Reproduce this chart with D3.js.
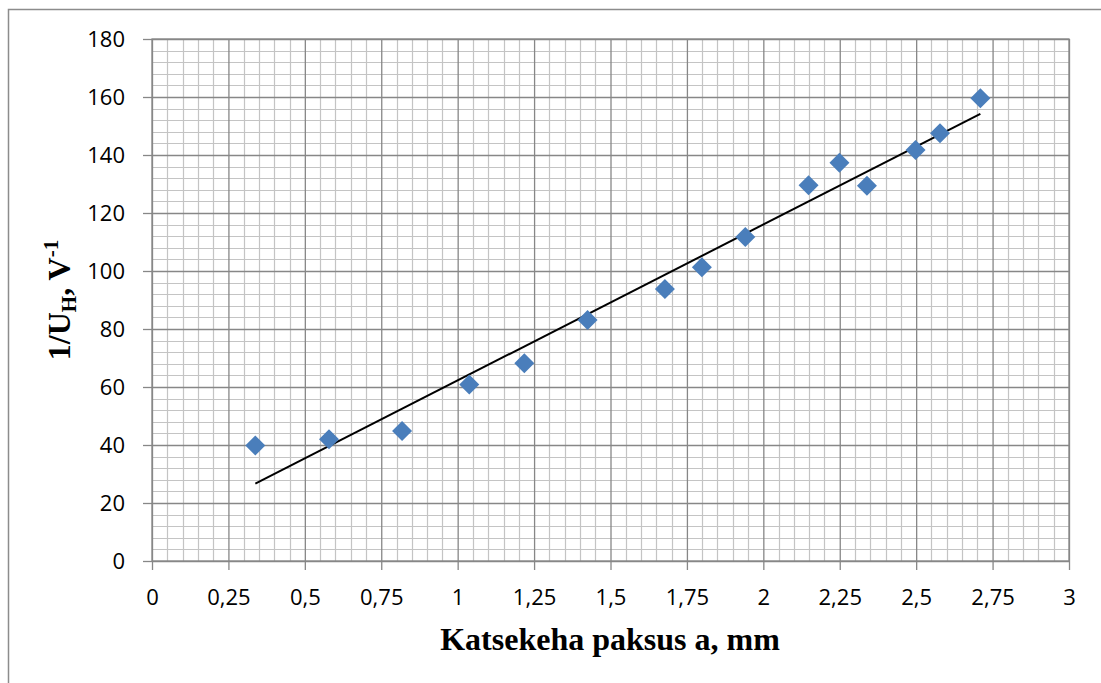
<!DOCTYPE html>
<html>
<head>
<meta charset="utf-8">
<script src="https://cdn.jsdelivr.net/npm/d3@7"></script>
<style>
  body { margin: 0; background: #fff; }
  svg { display: block; }
</style>
</head>
<body>
<svg id="chart" width="1101" height="683"></svg>
<script>
// measured values
const thickness = [0.338, 0.579, 0.818, 1.038, 1.218, 1.425, 1.678, 1.799, 1.941, 2.148, 2.249, 2.339, 2.498, 2.578, 2.71];
const invU = [39.8, 42, 44.8, 60.9, 68.2, 83.1, 93.8, 101.3, 111.7, 129.6, 137.3, 129.4, 141.7, 147.5, 159.6];
const xTicks = [0, 0.25, 0.5, 0.75, 1, 1.25, 1.5, 1.75, 2, 2.25, 2.5, 2.75, 3];
const yTicks = [0, 20, 40, 60, 80, 100, 120, 140, 160, 180];

let canvas = d3.select("#chart");
let marginLeft = 152, marginTop = 39, width = 917, height = 522;

// outer chart border
canvas.append("rect")
    .attr("x", 8.5).attr("y", 9.5)
    .attr("width", 1110).attr("height", 700)
    .attr("fill", "none")
    .attr("stroke", "#8c8c8c")
    .attr("stroke-width", 1.5);

let x = d3.scaleLinear().domain([0, 3]).range([0, width]);
let y = d3.scaleLinear().domain([0, 180]).range([height, 0]);

let g = canvas.append("g").attr("transform", "translate(" + marginLeft + "," + marginTop + ")");

// minor grid
let minorX = d3.range(0, 3.0001, 0.05).filter(v => Math.abs(v / 0.25 - Math.round(v / 0.25)) > 1e-6);
let minorY = d3.range(0, 180.001, 4).filter(v => v % 20 != 0);
g.append("g").selectAll("line").data(minorX).enter().append("line")
    .attr("x1", d => Math.round(x(d)) + 0.5).attr("x2", d => Math.round(x(d)) + 0.5)
    .attr("y1", 0).attr("y2", height)
    .attr("stroke", "#c4c4c4").attr("stroke-width", 1.2);
g.append("g").selectAll("line").data(minorY).enter().append("line")
    .attr("y1", d => Math.round(y(d)) + 0.5).attr("y2", d => Math.round(y(d)) + 0.5)
    .attr("x1", 0).attr("x2", width)
    .attr("stroke", "#c4c4c4").attr("stroke-width", 1.2);

// major grid + axes with ticks
g.append("g")
    .attr("transform", "translate(0," + height + ")")
    .call(d3.axisBottom(x).tickValues(xTicks).tickSize(-height).tickSizeOuter(0)
        .tickFormat(d => String(d).replace(".", ",")))
    .call(a => a.select(".domain").remove())
    .call(a => a.selectAll(".tick line").attr("stroke", "#878787").attr("stroke-width", 1.3))
    .call(a => a.selectAll(".tick").append("line")
        .attr("y1", 0).attr("y2", 9).attr("stroke", "#878787").attr("stroke-width", 1.3))
    .call(a => a.selectAll(".tick text").attr("y", 28)
        .attr("font-family", "'Open Sans', sans-serif").attr("font-size", 22).attr("fill", "#000"));

g.append("g")
    .call(d3.axisLeft(y).tickValues(yTicks).tickSize(-width).tickSizeOuter(0))
    .call(a => a.select(".domain").remove())
    .call(a => a.selectAll(".tick line").attr("stroke", "#878787").attr("stroke-width", 1.3))
    .call(a => a.selectAll(".tick").append("line")
        .attr("x1", 0).attr("x2", -9).attr("stroke", "#878787").attr("stroke-width", 1.3))
    .call(a => a.selectAll(".tick text").attr("x", -27)
        .attr("font-family", "'Open Sans', sans-serif").attr("font-size", 22).attr("fill", "#000"));

// plot area frame
g.append("rect").attr("width", width).attr("height", height)
    .attr("fill", "none").attr("stroke", "#878787").attr("stroke-width", 1.3);

// linear trendline (least squares)
let mx = d3.mean(thickness), my = d3.mean(invU);
let slope = d3.sum(thickness, (t, i) => (t - mx) * (invU[i] - my)) / d3.sum(thickness, t => (t - mx) * (t - mx));
let icpt = my - slope * mx;
let xs = d3.extent(thickness);
g.append("line")
    .attr("x1", x(xs[0])).attr("y1", y(icpt + slope * xs[0]))
    .attr("x2", x(xs[1])).attr("y2", y(icpt + slope * xs[1]))
    .attr("stroke", "#000").attr("stroke-width", 2);

// markers
let pts = thickness.map((t, i) => ({a: t, u: invU[i]}));
g.selectAll("path.pt").data(pts).enter().append("path")
    .attr("class", "pt")
    .attr("d", "M0,-10L10,0L0,10L-10,0Z")
    .attr("transform", d => "translate(" + x(d.a) + "," + y(d.u) + ")")
    .attr("fill", "#4a7ebb");

// axis titles
canvas.append("text")
    .attr("x", 610).attr("y", 650)
    .attr("text-anchor", "middle")
    .attr("font-family", "'Liberation Serif', 'Times New Roman', serif")
    .attr("font-weight", "bold").attr("font-size", 32)
    .text("Katsekeha paksus a, mm");

let yt = canvas.append("text")
    .attr("transform", "translate(70,300) rotate(-90)")
    .attr("text-anchor", "middle")
    .attr("font-family", "'Liberation Serif', 'Times New Roman', serif")
    .attr("font-weight", "bold").attr("font-size", 32);
yt.append("tspan").text("1/U");
yt.append("tspan").attr("font-size", 21).attr("dy", 6).text("H");
yt.append("tspan").attr("dy", -6).text(", V");
yt.append("tspan").attr("font-size", 21).attr("dy", -12).text("-1");
</script>
</body>
</html>
